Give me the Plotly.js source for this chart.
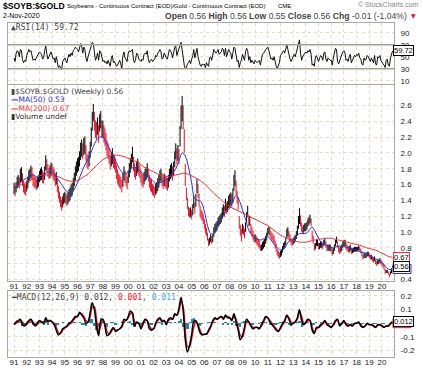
<!DOCTYPE html>
<html><head><meta charset="utf-8">
<script src="https://cdn.plot.ly/plotly-3.0.1.min.js"></script>
<style>html,body{margin:0;padding:0;background:#fff}#c{width:423px;height:375px}</style>
</head><body><div id="c"></div>
<script>
// ---------- DATA ----------
const yearLabels = ['91','92','93','94','95','96','97','98','99','00','01','02','03','04','05','06','07','08','09','10','11','12','13','14','15','16','17','18','19','20'];
const priceTickLabels = ['0.4','','0.8','1.0','1.2','1.4','1.6','1.8','2.0','2.2','2.4','2.6'];
const lastDate = '2020-11-02';
const lastClose = 0.56;
// monthly high / low of $SOYB:$GOLD, Jan 1991 .. Nov 2020
const priceHigh = [
1.62,1.58,1.63,1.70,1.72,1.69,1.80,1.82,1.74,1.65,1.61,1.60,
1.65,1.70,1.78,1.80,1.84,1.82,1.74,1.71,1.69,1.67,1.70,1.72,
1.77,1.80,1.82,1.78,1.75,1.83,1.97,1.92,1.86,1.81,1.84,1.88,
1.86,1.82,1.80,1.74,1.76,1.67,1.58,1.51,1.45,1.41,1.45,1.49,
1.51,1.49,1.47,1.50,1.54,1.56,1.60,1.62,1.68,1.75,1.83,1.89,
1.93,1.95,2.02,2.13,2.17,2.12,2.19,2.21,2.10,1.99,1.97,2.02,
2.14,2.32,2.52,2.62,2.52,2.41,2.39,2.45,2.35,2.49,2.53,2.41,
2.41,2.35,2.31,2.25,2.16,2.12,2.06,1.97,2.01,2.06,1.99,1.97,
1.93,1.85,1.79,1.74,1.72,1.70,1.66,1.75,1.83,1.78,1.74,1.70,
1.78,1.87,1.93,1.99,2.08,1.95,1.87,1.82,1.89,1.93,1.89,1.84,
1.78,1.74,1.72,1.76,1.80,1.82,1.87,1.80,1.72,1.68,1.66,1.61,
1.59,1.57,1.61,1.63,1.68,1.72,1.78,1.80,1.74,1.70,1.74,1.72,
1.70,1.68,1.72,1.80,1.85,1.87,1.83,1.89,2.02,2.12,2.06,2.10,
2.05,2.34,2.60,2.72,2.60,2.30,1.86,1.56,1.43,1.32,1.30,1.31,
1.28,1.35,1.46,1.37,1.48,1.67,1.61,1.48,1.33,1.28,1.26,1.22,
1.16,1.10,1.05,0.99,0.91,0.93,0.97,0.95,0.97,1.06,1.10,1.12,
1.14,1.18,1.20,1.22,1.24,1.31,1.35,1.33,1.42,1.37,1.39,1.46,
1.48,1.50,1.48,1.55,1.72,1.78,1.65,1.52,1.44,1.20,1.09,1.04,
1.10,1.08,1.04,1.12,1.25,1.33,1.21,1.20,1.10,1.06,1.02,0.97,
0.97,0.95,0.93,0.91,0.89,0.84,0.84,0.87,0.89,0.91,0.95,0.99,
1.05,1.07,1.05,1.01,0.99,0.97,0.95,0.89,0.85,0.78,0.76,0.74,
0.76,0.78,0.82,0.86,0.88,0.93,1.04,1.06,1.01,0.97,0.92,0.90,
0.92,0.94,0.96,1.01,1.08,1.20,1.30,1.21,1.12,1.07,1.09,1.11,
1.11,1.13,1.17,1.19,1.22,1.17,1.02,0.95,0.85,0.86,0.90,0.90,
0.86,0.86,0.88,0.88,0.86,0.90,0.92,0.88,0.84,0.84,0.84,0.84,
0.82,0.78,0.80,0.84,0.90,0.94,0.88,0.82,0.80,0.82,0.84,0.88,
0.90,0.90,0.86,0.84,0.82,0.82,0.84,0.80,0.79,0.80,0.81,0.81,
0.81,0.81,0.83,0.81,0.79,0.75,0.71,0.73,0.73,0.73,0.75,0.75,
0.73,0.71,0.71,0.69,0.67,0.69,0.65,0.63,0.65,0.65,0.67,0.65,
0.63,0.61,0.59,0.53,0.52,0.52,0.50,0.47,0.50,0.54,0.57];
const priceLow = [
1.48,1.45,1.50,1.55,1.57,1.55,1.62,1.64,1.58,1.50,1.48,1.46,
1.51,1.55,1.62,1.65,1.68,1.66,1.58,1.56,1.55,1.53,1.55,1.57,
1.63,1.65,1.66,1.62,1.61,1.66,1.78,1.76,1.70,1.67,1.68,1.72,
1.70,1.66,1.64,1.58,1.60,1.50,1.42,1.37,1.31,1.27,1.31,1.35,
1.37,1.35,1.33,1.35,1.38,1.40,1.44,1.46,1.52,1.58,1.65,1.71,
1.75,1.77,1.83,1.91,1.95,1.92,1.97,1.99,1.90,1.81,1.79,1.83,
1.94,2.08,2.28,2.40,2.28,2.19,2.17,2.23,2.13,2.27,2.31,2.19,
2.19,2.13,2.09,2.03,1.96,1.92,1.86,1.79,1.83,1.86,1.81,1.79,
1.75,1.67,1.61,1.58,1.56,1.54,1.50,1.57,1.65,1.62,1.58,1.54,
1.62,1.69,1.75,1.81,1.88,1.77,1.69,1.66,1.71,1.75,1.71,1.68,
1.62,1.58,1.56,1.60,1.64,1.66,1.69,1.64,1.56,1.52,1.50,1.47,
1.45,1.43,1.47,1.49,1.52,1.56,1.62,1.64,1.58,1.54,1.58,1.56,
1.54,1.52,1.56,1.64,1.67,1.69,1.65,1.71,1.82,1.92,1.86,1.90,
1.86,2.08,2.30,2.40,2.30,2.00,1.58,1.40,1.29,1.20,1.18,1.19,
1.16,1.21,1.30,1.23,1.32,1.49,1.43,1.32,1.19,1.16,1.14,1.10,
1.04,0.98,0.95,0.89,0.82,0.84,0.87,0.85,0.87,0.94,0.98,1.00,
1.02,1.06,1.08,1.10,1.12,1.17,1.21,1.19,1.26,1.23,1.25,1.30,
1.32,1.34,1.32,1.37,1.52,1.58,1.47,1.36,1.28,1.04,0.95,0.88,
0.98,0.96,0.92,1.00,1.11,1.19,1.07,1.08,0.98,0.94,0.90,0.87,
0.87,0.85,0.83,0.81,0.79,0.76,0.76,0.77,0.79,0.81,0.85,0.89,
0.95,0.97,0.95,0.91,0.89,0.87,0.85,0.79,0.75,0.70,0.68,0.66,
0.68,0.70,0.74,0.78,0.80,0.83,0.92,0.94,0.91,0.87,0.84,0.82,
0.84,0.86,0.88,0.91,0.96,1.04,1.10,1.07,1.00,0.97,0.99,1.01,
1.01,1.03,1.07,1.09,1.11,1.07,0.90,0.85,0.76,0.78,0.82,0.82,
0.78,0.78,0.80,0.80,0.78,0.82,0.84,0.80,0.76,0.76,0.76,0.76,
0.74,0.70,0.72,0.76,0.82,0.86,0.80,0.74,0.72,0.74,0.76,0.80,
0.82,0.82,0.78,0.76,0.74,0.74,0.76,0.72,0.73,0.74,0.75,0.75,
0.75,0.75,0.77,0.75,0.73,0.69,0.65,0.67,0.67,0.67,0.69,0.69,
0.67,0.65,0.65,0.63,0.61,0.63,0.59,0.57,0.59,0.59,0.61,0.59,
0.57,0.55,0.52,0.47,0.48,0.48,0.46,0.43,0.46,0.48,0.55];
// quarterly moving averages, Q1 1991 .. Q4 2020, then the value on the last date
const ma50 = [
1.56,1.58,1.62,1.66, 1.68,1.70,1.72,1.70, 1.68,1.70,1.74,1.76, 1.76,1.72,1.66,1.60,
1.54,1.50,1.48,1.54, 1.62,1.72,1.82,1.90, 1.98,2.08,2.16,2.20, 2.20,2.14,2.06,1.98,
1.90,1.82,1.76,1.74, 1.76,1.80,1.82,1.80, 1.76,1.72,1.70,1.68, 1.64,1.60,1.62,1.64,
1.66,1.70,1.74,1.80, 1.90,2.00,1.96,1.82, 1.62,1.42,1.40,1.38, 1.26,1.08,0.98,0.98,
1.06,1.12,1.20,1.26, 1.30,1.38,1.46,1.40, 1.28,1.16,1.02,0.96, 0.92,0.90,0.90,0.92,
0.94,0.90,0.84,0.80, 0.77,0.78,0.84,0.90, 0.90,0.94,0.98,0.98, 0.98,1.02,1.06,1.00,
0.92,0.86,0.84,0.82, 0.80,0.80,0.82,0.82, 0.82,0.80,0.79,0.78, 0.77,0.75,0.74,0.73,
0.70,0.68,0.66,0.64, 0.61,0.57,0.53,0.52, 0.53];
const ma200 = [
1.58,1.59,1.60,1.61, 1.63,1.65,1.67,1.69, 1.71,1.72,1.72,1.72, 1.72,1.71,1.70,1.68,
1.66,1.65,1.64,1.64, 1.65,1.67,1.70,1.72, 1.76,1.80,1.84,1.88, 1.91,1.94,1.96,1.97,
1.97,1.97,1.96,1.95, 1.93,1.92,1.90,1.88, 1.85,1.82,1.80,1.78, 1.76,1.74,1.72,1.71,
1.70,1.70,1.71,1.72, 1.73,1.74,1.74,1.73, 1.71,1.69,1.67,1.64, 1.61,1.57,1.53,1.49,
1.45,1.42,1.38,1.35, 1.32,1.30,1.28,1.26, 1.24,1.22,1.20,1.18, 1.16,1.14,1.12,1.10,
1.08,1.05,1.02,0.99, 0.96,0.94,0.92,0.90, 0.89,0.88,0.87,0.87, 0.87,0.88,0.89,0.90,
0.91,0.91,0.92,0.92, 0.92,0.91,0.90,0.89, 0.88,0.87,0.86,0.85, 0.84,0.83,0.82,0.80,
0.79,0.78,0.77,0.75, 0.73,0.71,0.69,0.68, 0.67];
// monthly RSI(14), Jan 1991 .. Nov 2020
const rsi = [
48,42,55,60,58,50,62,60,45,40,44,42,
52,56,62,58,60,52,44,46,44,48,52,55,
58,56,54,46,48,60,68,55,46,50,54,58,
52,46,48,40,50,36,32,35,30,28,42,46,
48,44,40,48,54,50,56,52,60,62,66,64,
62,58,66,72,68,56,66,62,48,42,50,56,
66,70,74,72,52,44,48,56,44,60,58,46,
42,44,40,42,38,44,40,34,48,52,40,42,
38,34,36,40,44,38,30,52,58,48,44,42,
56,60,58,60,62,44,40,46,56,54,46,44,
42,46,44,54,56,54,60,46,40,44,46,42,
44,46,52,50,56,58,62,58,46,48,56,50,
48,46,54,62,60,56,48,58,66,68,52,58,
64,70,74,62,46,36,30,32,38,40,44,38,
46,52,62,48,56,64,50,42,36,34,38,36,
38,32,40,36,34,48,50,44,52,62,58,56,
58,62,54,56,58,64,62,52,64,50,56,62,
58,56,46,58,66,64,48,42,44,32,40,44,
54,46,44,58,64,60,44,50,40,44,40,38,
44,42,40,42,44,36,46,54,56,58,62,64,
66,60,54,46,48,44,50,38,34,30,36,40,
52,54,58,60,56,64,70,62,50,46,42,46,
52,54,50,58,64,72,78,56,44,50,54,56,
58,56,60,58,62,54,36,38,34,48,52,46,
42,48,52,50,44,56,58,46,42,48,46,44,
44,36,48,58,64,62,42,38,44,52,54,58,
60,56,44,46,42,50,54,40,44,48,52,50,
54,52,56,48,46,38,36,48,44,46,52,50,
46,42,48,44,40,52,38,36,50,48,52,44,
40,38,36,32,44,46,36,34,48,56,59.72];
// every two months, Jan 1991 .. Nov 2020: MACD(12,26,9) line, signal line, histogram
const macd = [
-0.01,0.01,0.02,0.03,-0.01,-0.02, 0.00,0.02,0.03,0.00,-0.02,0.00, 0.02,0.01,0.00,0.04,0.01,0.02,
0.01,-0.01,-0.05,-0.085,-0.07,-0.04, -0.03,-0.02,0.00,0.01,0.03,0.05, 0.05,0.08,0.06,0.04,0.00,0.01,
0.08,0.15,0.10,-0.02,-0.09,0.02, 0.03,-0.02,-0.09,-0.08,-0.05,-0.03, -0.06,-0.05,-0.04,-0.02,0.03,0.02,
0.05,0.09,0.07,-0.02,0.01,0.00, -0.04,0.00,0.03,0.02,-0.04,-0.05, -0.04,0.00,0.03,0.04,0.01,0.02,
-0.01,0.03,0.04,0.03,0.07,0.06, 0.11,0.19,0.09,-0.12,-0.21,-0.16, -0.08,0.01,0.02,-0.02,-0.07,-0.085,
-0.08,-0.08,-0.05,-0.02,0.02,0.04, 0.03,0.04,0.05,0.03,0.06,0.04, 0.04,0.02,0.07,0.01,-0.05,-0.12,
-0.09,-0.03,0.03,0.01,-0.02,-0.04, -0.03,-0.03,-0.04,-0.01,0.02,0.05, 0.04,0.01,-0.01,-0.03,-0.05,-0.06,
-0.03,0.00,0.02,0.06,0.03,-0.01, 0.00,0.01,0.04,0.10,0.02,-0.01, 0.01,0.03,0.02,-0.05,-0.075,-0.03,
-0.03,-0.01,0.00,0.02,-0.01,-0.02, -0.03,-0.01,0.02,0.03,-0.02,0.00, 0.02,-0.01,-0.02,-0.01,-0.02,0.00,
0.00,0.01,-0.02,-0.03,-0.02,0.00, -0.01,-0.01,-0.02,-0.03,-0.01,-0.01, -0.02,-0.03,-0.02,-0.02,0.00,0.012];
const macdSignal = [
-0.01,0.00,0.01,0.02,0.01,-0.01, -0.01,0.01,0.02,0.01,-0.01,-0.01, 0.01,0.01,0.01,0.02,0.02,0.02,
0.01,0.00,-0.03,-0.07,-0.075,-0.05, -0.035,-0.025,-0.01,0.00,0.02,0.04, 0.05,0.07,0.07,0.05,0.02,0.01,
0.05,0.12,0.12,0.03,-0.06,-0.02, 0.02,0.00,-0.06,-0.08,-0.06,-0.04, -0.05,-0.05,-0.04,-0.03,0.01,0.02,
0.04,0.07,0.08,0.01,0.00,0.00, -0.03,-0.01,0.02,0.02,-0.02,-0.04, -0.04,-0.01,0.02,0.03,0.02,0.02,
0.00,0.02,0.03,0.03,0.06,0.06, 0.09,0.16,0.12,-0.05,-0.17,-0.17, -0.11,-0.03,0.01,-0.01,-0.05,-0.08,
-0.08,-0.08,-0.06,-0.03,0.01,0.03, 0.03,0.04,0.05,0.04,0.05,0.05, 0.04,0.03,0.05,0.03,-0.03,-0.09,
-0.10,-0.05,0.01,0.01,-0.01,-0.03, -0.03,-0.03,-0.035,-0.02,0.01,0.04, 0.04,0.02,0.00,-0.02,-0.04,-0.055,
-0.04,-0.01,0.01,0.05,0.04,0.01, 0.00,0.01,0.03,0.08,0.05,0.00, 0.00,0.02,0.02,-0.03,-0.065,-0.04,
-0.03,-0.02,-0.005,0.01,0.00,-0.015, -0.025,-0.015,0.01,0.025,-0.01,-0.005, 0.01,0.00,-0.015,-0.01,-0.015,-0.005,
0.00,0.005,-0.01,-0.025,-0.02,-0.005, -0.01,-0.01,-0.015,-0.025,-0.015,-0.01, -0.015,-0.025,-0.02,-0.02,-0.005,0.001];
const macdHist = [
0.00,0.01,0.01,0.01,-0.02,-0.01, 0.01,0.01,0.01,-0.01,-0.01,0.01, 0.01,0.00,-0.01,0.02,-0.01,0.00,
0.00,-0.01,-0.02,-0.015,0.005,0.01, 0.005,0.005,0.01,0.01,0.01,0.01, 0.00,0.01,-0.01,-0.01,-0.02,0.00,
0.03,0.03,-0.02,-0.05,-0.03,0.04, 0.01,-0.02,-0.03,0.00,0.01,0.01, -0.01,0.00,0.00,0.01,0.02,0.00,
0.01,0.02,-0.01,-0.03,0.01,0.00, -0.01,0.01,0.01,0.00,-0.02,-0.01, 0.00,0.01,0.01,0.01,-0.01,0.00,
-0.01,0.01,0.01,0.00,0.01,0.00, 0.02,0.03,-0.03,-0.07,-0.04,0.01, 0.03,0.04,0.01,-0.01,-0.02,-0.005,
0.00,0.00,0.01,0.01,0.01,0.01, 0.00,0.00,0.00,-0.01,0.01,-0.01, 0.00,-0.01,0.02,-0.02,-0.02,-0.03,
0.01,0.02,0.02,0.00,-0.01,-0.01, 0.00,0.00,-0.005,0.01,0.01,0.01, 0.00,-0.01,-0.01,-0.01,-0.01,-0.005,
0.01,0.01,0.01,0.01,-0.01,-0.02, 0.00,0.00,0.01,0.02,-0.03,-0.01, 0.01,0.01,0.00,-0.02,-0.01,0.01,
0.00,0.01,0.005,0.01,-0.01,-0.005, -0.005,0.005,0.01,0.005,-0.01,0.005, 0.01,-0.01,-0.005,0.00,-0.005,0.005,
0.00,0.005,-0.01,-0.005,0.00,0.005, 0.00,0.00,-0.005,-0.005,0.005,0.00, -0.005,-0.005,0.00,0.00,0.005,0.011];

// ---------- BUILD ----------
function monthDate(i){const y=1991+Math.floor(i/12);const m=i%12+1;return y+'-'+String(m).padStart(2,'0')+'-01';}
const mDates = priceHigh.map((_,i)=>monthDate(i));
const rsiDates = rsi.map((_,i)=>monthDate(i));
const qDates = ma50.map((_,i)=> i<ma50.length-1 ? monthDate(3*i) : lastDate);
const bDates = macd.map((_,i)=>monthDate(2*i));
const yearTicks = yearLabels.map((_,i)=>(1991+i)+'-01-01');
const priceTicks = priceTickLabels.map((_,i)=>0.4+0.2*i);

const upX=[],upY=[],dnX=[],dnY=[];
for(let i=0;i<priceHigh.length;i++){
  const mid=(priceHigh[i]+priceLow[i])/2;
  const prev=i>0?(priceHigh[i-1]+priceLow[i-1])/2:mid;
  const X=(mid>=prev)?upX:dnX, Y=(mid>=prev)?upY:dnY;
  X.push(mDates[i],mDates[i],null); Y.push(priceLow[i],priceHigh[i],null);
}
const RED='#e8112d', BLUE='#2f2fc8', MRED='#e8323c', TEAL='#2b84a6';
const traces=[
 {x:rsiDates,y:rsi,type:'scatter',mode:'lines',line:{color:'#111',width:1},xaxis:'x',yaxis:'y'},
 {x:dnX,y:dnY,type:'scatter',mode:'lines',line:{color:RED,width:1},xaxis:'x2',yaxis:'y2'},
 {x:upX,y:upY,type:'scatter',mode:'lines',line:{color:'#000',width:1},xaxis:'x2',yaxis:'y2'},
 {x:qDates,y:ma200,type:'scatter',mode:'lines',line:{color:MRED,width:1,shape:'spline'},xaxis:'x2',yaxis:'y2'},
 {x:qDates,y:ma50,type:'scatter',mode:'lines',line:{color:BLUE,width:1,shape:'spline'},xaxis:'x2',yaxis:'y2'},
 {x:bDates,y:macdHist,type:'bar',marker:{color:TEAL,line:{width:0}},width:61*86400000,xaxis:'x3',yaxis:'y3'},
 {x:bDates,y:macdSignal,type:'scatter',mode:'lines',line:{color:RED,width:1.5,shape:'spline'},xaxis:'x3',yaxis:'y3'},
 {x:bDates,y:macd,type:'scatter',mode:'lines',line:{color:'#000',width:1.5,shape:'spline'},xaxis:'x3',yaxis:'y3'}
];
const W=423,H=375;
const px=x=>x/W, py=y=>1-y/H;
const GRID='#e4dfc4';
const xr=['1990-07-11','2020-12-12'];
const xbase={type:'date',range:xr,tickvals:yearTicks,ticktext:yearLabels,showgrid:true,gridcolor:GRID,griddash:'dot',gridwidth:1,
  showline:true,mirror:true,linecolor:'#a8a8a8',linewidth:1,zeroline:false,ticks:'',ticklabelstandoff:-3,
  tickfont:{family:'Arial',size:8,color:'#222'},domain:[px(8),px(394)]};
const ybase={side:'right',showgrid:true,gridcolor:GRID,griddash:'dot',showline:true,mirror:true,linecolor:'#a8a8a8',linewidth:1,zeroline:false,
  ticks:'outside',ticklen:4,tickcolor:'rgba(0,0,0,0)',tickfont:{family:'Arial',size:8,color:'#222'}};
const layout={
 width:W,height:H,margin:{l:0,r:0,t:0,b:0},paper_bgcolor:'#fff',plot_bgcolor:'#fff',showlegend:false,bargap:0,
 xaxis:Object.assign({},xbase,{anchor:'y',showticklabels:false}),
 xaxis2:Object.assign({},xbase,{anchor:'y2',matches:'x'}),
 xaxis3:Object.assign({},xbase,{anchor:'y3',matches:'x'}),
 yaxis:Object.assign({},ybase,{domain:[py(84),py(23)],range:[4.5,106.2],tickvals:[10,30,50,70,90]}),
 yaxis2:Object.assign({},ybase,{domain:[py(281),py(85)],range:[0.3785,2.8595],tickvals:priceTicks,ticktext:priceTickLabels}),
 yaxis3:Object.assign({},ybase,{domain:[py(357),py(291)],range:[-0.2465,0.2363],tickvals:[-0.2,-0.1,0,0.1,0.2],ticktext:['-0.2','-0.1','','0.1','0.2']}),
 shapes:[
  {type:'line',xref:'x domain',yref:'y',x0:0,x1:1,y0:70,y1:70,line:{color:'#a3a38f',width:1.5}},
  {type:'line',xref:'x domain',yref:'y',x0:0,x1:1,y0:30,y1:30,line:{color:'#a3a38f',width:1.5}}
 ],
 annotations:[]
};
const A=layout.annotations;
function txt(t,x,y,o){A.push(Object.assign({text:t,xref:'paper',yref:'paper',x:px(x),y:py(y),xanchor:'left',yanchor:'middle',showarrow:false,
  font:{family:'Arial',size:8,color:'#000'}},o||{}));}
const last=a=>a[a.length-1];
txt('<b>$SOYB:$GOLD</b>',1,6,{font:{family:'Arial',size:8.6,color:'#000'}});
txt('Soybeans - Continuous Contract (EOD)/Gold - Continuous Contract (EOD)',65,6,{font:{family:'Arial',size:6,color:'#000'}});
txt('CME',276,6.5,{font:{family:'Arial',size:6,color:'#000'}});
txt('© StockCharts.com',421,5,{xanchor:'right',font:{family:'Arial',size:7,color:'#888'}});
txt('2-Nov-2020',1,15.5,{font:{family:'Arial',size:7,color:'#000'}});
txt('<b>Open</b> 0.56 <b>High</b> 0.56 <b>Low</b> 0.55 <b>Close</b> 0.56 <b>Chg</b> -0.01 (-1.04%)',409,15.5,{xanchor:'right',font:{family:'Arial',size:8.6}});
txt('▼',409,16,{font:{family:'DejaVu Sans',size:6,color:RED}});
txt('<b>▲</b>RSI(14) '+last(rsi).toFixed(2),9,28,{font:{family:'DejaVu Sans Mono',size:8}});
txt('<b>▮</b>$SOYB:$GOLD (Weekly) '+lastClose.toFixed(2),9,91,{font:{family:'DejaVu Sans',size:7.5}});
txt('<b>—</b>MA(50) '+last(ma50).toFixed(2),9,99.5,{font:{family:'DejaVu Sans',size:7.5,color:BLUE}});
txt('<b>—</b>MA(200) '+last(ma200).toFixed(2),9,108,{font:{family:'DejaVu Sans',size:7.5,color:MRED}});
txt('<b>▮</b>Volume undef',9,116.5,{font:{family:'DejaVu Sans',size:7.5,color:'#333'}});
txt('<b>━</b>MACD(12,26,9) '+last(macd).toFixed(3)+', <span style="color:'+RED+'">'+last(macdSignal).toFixed(3)+'</span>, <span style="color:#3aa6d8">'+last(macdHist).toFixed(3)+'</span>',9,297,{font:{family:'DejaVu Sans Mono',size:8}});
function box(t,yref,y,col){A.push({text:t,xref:'paper',yref:yref,x:px(393),y:y,xanchor:'left',yanchor:'middle',showarrow:false,
  bordercolor:col,borderwidth:1,borderpad:0,bgcolor:'#fff',font:{family:'Arial',size:7.5,color:'#000'}});}
// coloured edges of the value markers hidden behind the front boxes
function backRect(yref,y,halfPx,pxPerUnit,col){layout.shapes.push({type:'rect',xref:'paper',yref:yref,x0:px(393),x1:px(411),
  y0:y-halfPx/pxPerUnit,y1:y+halfPx/pxPerUnit,line:{color:col,width:1},fillcolor:'#fff',layer:'above'});}
box(last(rsi).toFixed(2),'y',last(rsi),'#000');
box(last(ma200).toFixed(2),'y2',last(ma200),MRED);
backRect('y2',last(ma50),4.5,79,BLUE);
box(lastClose.toFixed(2),'y2',lastClose,'#000');
backRect('y3',last(macdSignal),4.5,136.7,RED);
box(last(macd).toFixed(3),'y3',last(macd),'#000');
Plotly.newPlot('c',traces,layout,{staticPlot:true,displayModeBar:false});
</script></body></html>
